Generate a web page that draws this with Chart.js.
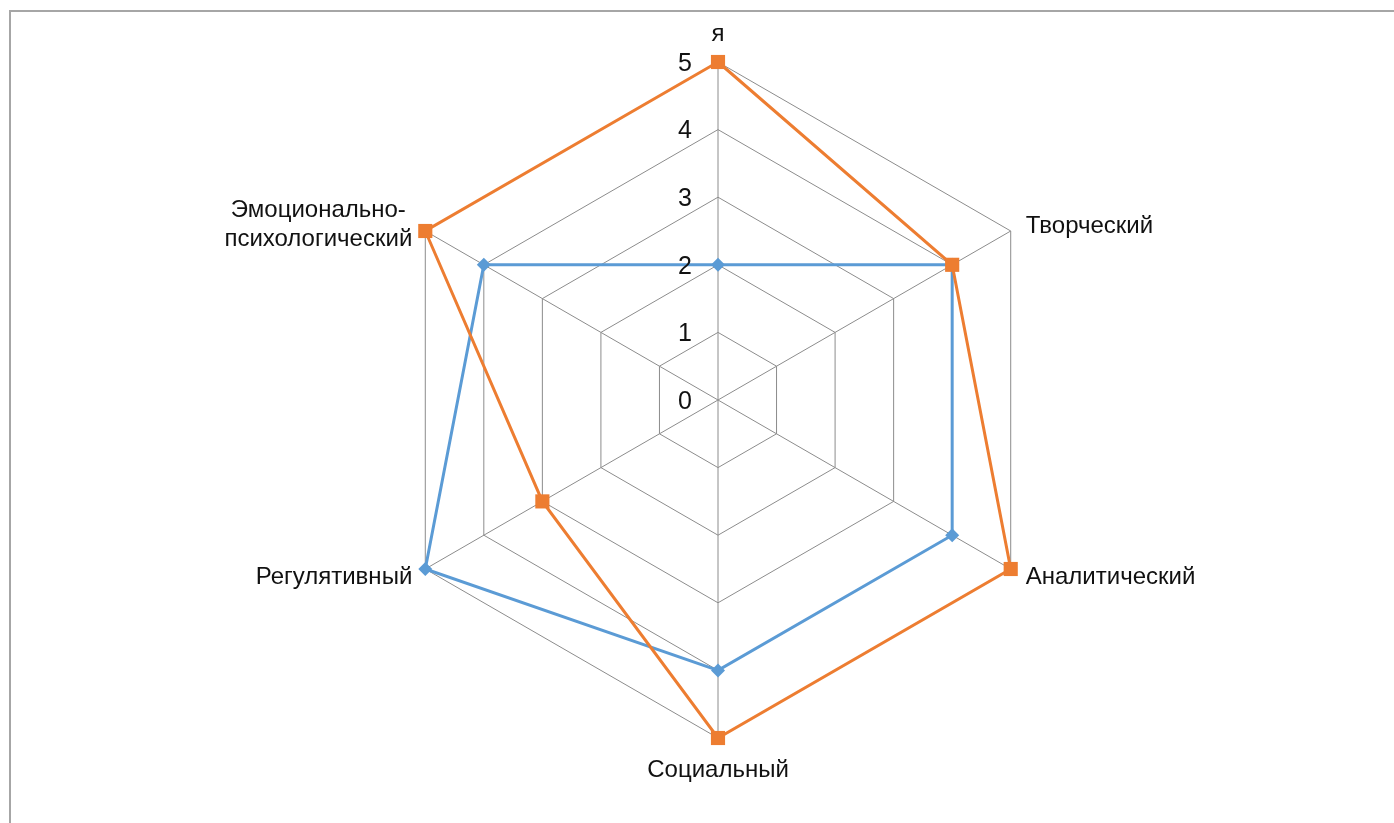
<!DOCTYPE html>
<html>
<head>
<meta charset="utf-8">
<script src="https://cdn.jsdelivr.net/npm/chart.js@4/dist/chart.umd.min.js"></script>
<style>
  html, body { margin: 0; padding: 0; background: #fff; overflow: hidden; }
  #wrap { position: relative; width: 1394px; height: 823px; }
  #frame {
    position: absolute; left: 9px; top: 10px; width: 1420px; height: 860px;
    border: 2px solid #a6a6a6; box-sizing: border-box;
  }
  canvas { position: absolute; left: 0; top: 0; }
</style>
</head>
<body>
<div id="wrap">
  <div id="frame"></div>
  <canvas id="chart"></canvas>
</div>
<script>
// ***** Data *****
const categories = ['я', 'Творческий', 'Аналитический', 'Социальный', 'Регулятивный', ['Эмоционально-', 'психологический']];
const seriesBlue = [2, 4, 4, 4, 5, 4];
const seriesOrange = [5, 4, 5, 5, 3, 5];
const tickValues = [0, 1, 2, 3, 4, 5];

// ***** Styles *****
const blue = '#5B9BD5';
const orange = '#ED7D31';
const gridColor = '#8c8c8c';
const textFont = '24px "Liberation Sans", Arial, sans-serif';
const tickFont = '25px "Liberation Sans", Arial, sans-serif';
const lineHeight = 29;

// Draw tick labels left of the vertical axis, and the category labels
const labelPlugin = {
  id: 'labels',
  afterDraw(chart) {
    const ctx = chart.ctx;
    const scale = chart.scales.r;
    ctx.save();
    ctx.fillStyle = '#111';

    // tick labels
    ctx.font = tickFont;
    ctx.textAlign = 'right';
    ctx.textBaseline = 'middle';
    tickValues.forEach((v) => {
      const p = scale.getPointPositionForValue(0, v);
      ctx.fillText(String(v), p.x - 26, p.y + 2);
    });

    // category labels
    ctx.font = textFont;
    ctx.textBaseline = 'alphabetic';
    categories.forEach((label, i) => {
      const lines = Array.isArray(label) ? label : [label];
      const p = scale.getPointPosition(i, scale.drawingArea);
      const cos = Math.cos(p.angle);
      const sin = Math.sin(p.angle);
      if (Math.abs(cos) < 0.01) {
        ctx.textAlign = 'center';
        const base = sin < 0 ? p.y - 21 : p.y + 39;
        lines.forEach((t, k) => ctx.fillText(t, p.x, base + k * lineHeight));
        return;
      }
      const widths = lines.map((t) => ctx.measureText(t).width);
      const blockW = Math.max(...widths);
      const cx = cos > 0 ? p.x + 15 + blockW / 2 : p.x - 13 - blockW / 2;
      const mid = sin < 0 ? p.y + 2 : p.y + 15;
      const first = mid - (lines.length - 1) * lineHeight / 2 - (lines.length > 1 ? 2 : 0);
      ctx.textAlign = 'center';
      lines.forEach((t, k) => ctx.fillText(t, cx, first + k * lineHeight));
    });
    ctx.restore();
  }
};

const configChart = {
  type: 'radar',
  data: {
    labels: categories,
    datasets: [
      {
        label: 'Ряд 1',
        data: seriesBlue,
        borderColor: blue,
        backgroundColor: blue,
        borderWidth: 3,
        fill: false,
        pointStyle: 'rectRot',
        pointRadius: 7,
        pointBorderWidth: 0,
        pointBackgroundColor: blue,
        order: 1
      },
      {
        label: 'Ряд 2',
        data: seriesOrange,
        borderColor: orange,
        backgroundColor: orange,
        borderWidth: 3,
        fill: false,
        pointStyle: 'rect',
        pointRadius: 10,
        pointBorderWidth: 0,
        pointBackgroundColor: orange,
        order: 0
      }
    ]
  },
  options: {
    responsive: false,
    animation: false,
    events: [],
    layout: { padding: { left: 380, right: 338, top: 62, bottom: 85 } },
    elements: { line: { tension: 0 } },
    plugins: { legend: { display: false }, tooltip: { enabled: false } },
    scales: {
      r: {
        min: 0,
        max: 5,
        ticks: { display: false, stepSize: 1 },
        pointLabels: { display: false },
        grid: { color: gridColor, lineWidth: 1, circular: false },
        angleLines: { color: gridColor, lineWidth: 1 }
      }
    }
  },
  plugins: [labelPlugin]
};

const canvas = document.getElementById('chart');
canvas.width = 1394;
canvas.height = 823;
const radarChart = new Chart(canvas, configChart);
</script>
</body>
</html>
